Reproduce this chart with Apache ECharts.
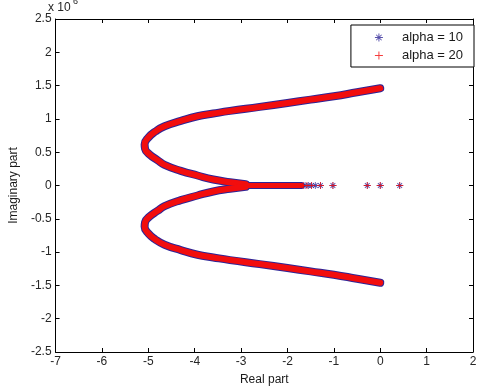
<!DOCTYPE html>
<html>
<head>
<meta charset="utf-8">
<script src="https://cdn.jsdelivr.net/npm/echarts@6/dist/echarts.min.js"></script>
<style>
  html, body { margin: 0; padding: 0; background: #fff; }
  #chart { width: 481px; height: 391px; }
</style>
</head>
<body>
<div id="chart"></div>
<script>
// axis ticks
var xTicks = [-7, -6, -5, -4, -3, -2, -1, 0, 1, 2];
var yTicks = [-2.5, -2, -1.5, -1, -0.5, 0, 0.5, 1, 1.5, 2, 2.5];

// root locus (imag part in units of 1e6)
var upperBranch = [
    [0, 1.46], [-0.5, 1.40], [-1.0, 1.34], [-1.5, 1.29], [-2.0, 1.24], [-2.6, 1.18],
    [-3.24, 1.12], [-3.6, 1.08], [-3.94, 1.04], [-4.3, 0.97], [-4.65, 0.89], [-4.85, 0.81],
    [-5.0, 0.72], [-5.08, 0.62], [-5.07, 0.55], [-4.98, 0.47], [-4.8, 0.38], [-4.65, 0.31],
    [-4.3, 0.22], [-3.94, 0.15], [-3.6, 0.09], [-3.24, 0.05], [-2.9, 0.02]
];
var lowerBranch = [
    [0, -1.46], [-0.5, -1.40], [-1.0, -1.34], [-1.5, -1.29], [-2.0, -1.24], [-2.6, -1.18],
    [-3.24, -1.12], [-3.6, -1.08], [-3.94, -1.04], [-4.3, -0.97], [-4.65, -0.89], [-4.85, -0.81],
    [-5.0, -0.72], [-5.08, -0.62], [-5.07, -0.55], [-4.98, -0.47], [-4.8, -0.38], [-4.65, -0.31],
    [-4.3, -0.22], [-3.94, -0.15], [-3.6, -0.09], [-3.24, -0.05], [-2.9, -0.02]
];
var realSegment = [[-2.9, 0], [-2.4, 0], [-1.7, 0]];
var realPoints10 = [[-1.62, 0], [-1.55, 0], [-1.48, 0], [-1.40, 0], [-1.29, 0], [-1.02, 0], [-0.28, 0], [0, 0], [0.42, 0]];
var realPoints20 = [[-1.66, 0], [-1.58, 0], [-1.48, 0], [-1.29, 0], [-1.02, 0], [-0.28, 0], [0, 0], [0.42, 0]];

var names = ['alpha = 10', 'alpha = 20'];
var colors = ['#2e2496', '#f20d0d'];

var STAR = 'path://M4.4,0 L5.6,0 L5.6,10 L4.4,10 Z M0,4.4 L10,4.4 L10,5.6 L0,5.6 Z ' +
           'M1.2,2 L2,1.2 L8.8,8 L8,8.8 Z M8,1.2 L8.8,2 L2,8.8 L1.2,8 Z';
var PLUS = 'path://M4.4,0 L5.6,0 L5.6,10 L4.4,10 Z M0,4.4 L10,4.4 L10,5.6 L0,5.6 Z';

var font = 'Liberation Sans, Arial, sans-serif';
var chart = echarts.init(document.getElementById('chart'));

function branch(name, data, color, width, z) {
    return {
        name: name,
        type: 'line',
        data: data,
        smooth: true,
        showSymbol: false,
        z: z,
        itemStyle: { color: color },
        lineStyle: { color: color, width: width, cap: 'round', join: 'round' },
        silent: true
    };
}

function points(name, data, color, symbol, z) {
    return {
        name: name,
        type: 'scatter',
        data: data,
        symbol: symbol,
        symbolSize: 7,
        z: z,
        itemStyle: { color: color }
    };
}

var axisCommon = {
    type: 'value',
    axisLine: { onZero: false, lineStyle: { color: '#000', width: 1 } },
    axisTick: { inside: true, length: 4, lineStyle: { color: '#000' } },
    splitLine: { show: false }
};

var option = {
    animation: false,
    backgroundColor: '#fff',
    grid: { left: 47, right: 8, top: 19, bottom: 38 },
    legend: {
        orient: 'vertical',
        right: 7,
        top: 25,
        padding: [6, 11, 5, 24],
        itemGap: 5,
        itemWidth: 36,
        itemHeight: 8,
        borderColor: '#000',
        borderWidth: 1,
        backgroundColor: '#fff',
        textStyle: { fontFamily: font, fontSize: 13, color: '#1a1a1a' },
        data: [
            { name: names[0], icon: STAR, itemStyle: { color: colors[0] } },
            { name: names[1], icon: PLUS, itemStyle: { color: colors[1] } }
        ]
    },
    xAxis: [
        Object.assign({}, axisCommon, {
            position: 'bottom',
            min: xTicks[0], max: xTicks[xTicks.length - 1], interval: 1,
            name: 'Real part',
            nameLocation: 'middle',
            nameGap: 22,
            nameTextStyle: { fontFamily: font, fontSize: 12, color: '#1a1a1a' },
            axisLabel: { margin: 4, fontFamily: font, fontSize: 12, color: '#262626' }
        }),
        Object.assign({}, axisCommon, {
            position: 'top',
            min: xTicks[0], max: xTicks[xTicks.length - 1], interval: 1,
            axisLabel: { show: false }
        })
    ],
    yAxis: [
        Object.assign({}, axisCommon, {
            position: 'left',
            min: yTicks[0], max: yTicks[yTicks.length - 1], interval: 0.5,
            name: 'Imaginary part',
            nameLocation: 'middle',
            nameRotate: 90,
            nameGap: 33,
            nameTextStyle: { fontFamily: font, fontSize: 12, color: '#1a1a1a' },
            axisLabel: { margin: 4, fontFamily: font, fontSize: 12, color: '#262626' }
        }),
        Object.assign({}, axisCommon, {
            position: 'right',
            min: yTicks[0], max: yTicks[yTicks.length - 1], interval: 0.5,
            axisLabel: { show: false }
        })
    ],
    graphic: [
        { type: 'text', left: 48, top: 2, style: { text: 'x 10', font: '12px ' + font, fill: '#262626' } },
        { type: 'text', left: 73, top: -3, style: { text: '6', font: '9px ' + font, fill: '#262626' } }
    ],
    series: [
        points(names[0], realPoints10, colors[0], STAR, 2),
        branch(names[0], upperBranch, colors[0], 8, 2),
        branch(names[0], lowerBranch, colors[0], 8, 2),
        branch(names[0], realSegment, colors[0], 7, 2),
        points(names[1], realPoints20, colors[1], PLUS, 3),
        branch(names[1], upperBranch, colors[1], 6, 3),
        branch(names[1], lowerBranch, colors[1], 6, 3),
        branch(names[1], realSegment, colors[1], 5, 3)
    ]
};

chart.setOption(option);
</script>
</body>
</html>
